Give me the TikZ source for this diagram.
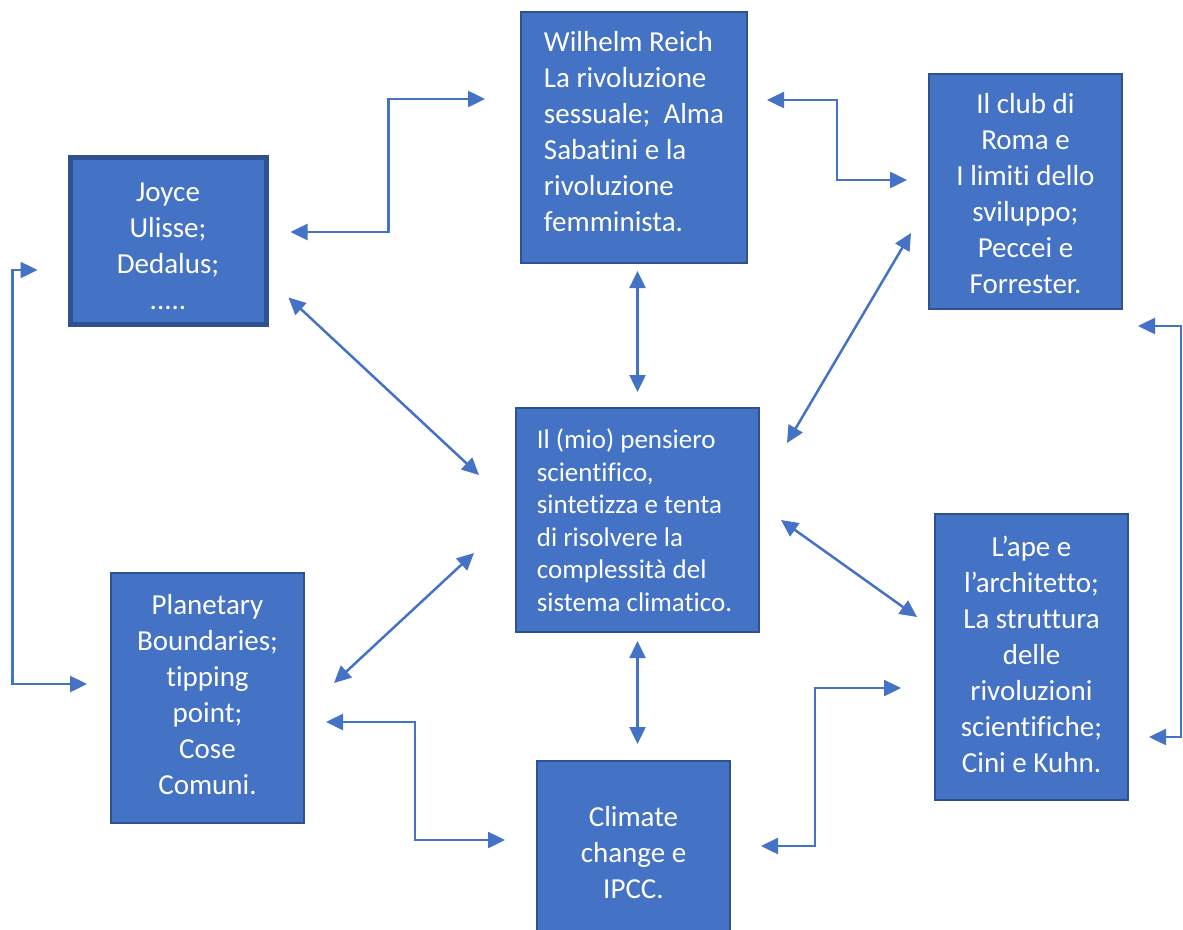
\documentclass[tikz,border=0pt]{standalone}
\usepackage{fontspec}
\setmainfont{Carlito}[Ligatures={NoCommon}]
\usetikzlibrary{arrows.meta,calc}
\definecolor{boxblue}{HTML}{4472C4}
\definecolor{boxedge}{HTML}{2F528F}

\begin{document}
\begin{tikzpicture}[x=1pt,y=-1pt,
	box/.style={draw=boxedge, line width=2pt, fill=boxblue, inner sep=0pt},
	txt/.style={text=white, inner sep=0pt, font=\fontsize{29}{36}\selectfont},
	link/.style={draw=boxblue, line width=2.5pt, {Triangle[length=17pt,width=16pt]}-{Triangle[length=17pt,width=16pt]}}]

	\useasboundingbox (0,0) rectangle (1183,929);

	% Boxes
	\node[box, line width=5pt, minimum width=196pt, minimum height=167pt] (joyce) at (168,240.5) {};
	\node[box, minimum width=226pt, minimum height=251pt] (reich) at (634,137.5) {};
	\node[box, minimum width=193pt, minimum height=235pt] (club) at (1025.5,191.5) {};
	\node[box, minimum width=243pt, minimum height=224pt] (centre) at (637.5,520) {};
	\node[box, minimum width=193pt, minimum height=250pt] (planet) at (207.5,698) {};
	\node[box, minimum width=193pt, minimum height=286pt] (ape) at (1031.5,657) {};
	\node[box, minimum width=193pt, minimum height=184pt] (climate) at (633.5,853) {};

	% Texts
	\node[txt, align=center] (joycetext) at ($(joyce)+(0,6)$) {Joyce\\Ulisse;\\Dedalus;\\.....};
	\node[txt, align=left] (reichtext) at ($(reich)+(0,-6)$) {Wilhelm Reich\\La rivoluzione\\sessuale;\ \ Alma\\Sabatini e la\\rivoluzione\\femminista.};
	\node[txt, align=center] (clubtext) at ($(club)+(0,2)$) {Il club di\\Roma e\\I limiti dello\\sviluppo;\\Peccei e\\Forrester.};
	\node[txt, align=left, font=\fontsize{27}{32.5}\selectfont] (centretext) at ($(centre)+(-3,0)$) {Il (mio) pensiero\\scientifico,\\sintetizza e tenta\\di risolvere la\\complessità del\\sistema climatico.};
	\node[txt, align=center] (planettext) at ($(planet)+(0,-3)$) {Planetary\\Boundaries;\\tipping\\point;\\Cose\\Comuni.};
	\node[txt, align=center] (apetext) at ($(ape)+(0,-3)$) {L’ape e\\l’architetto;\\La struttura\\delle\\rivoluzioni\\scientifiche;\\Cini e Kuhn.};
	\node[txt, align=center] (climatetext) at (climate) {Climate\\change e\\IPCC.};

	% Links
	\draw[link] ($(joyce.east)+(22,-8.5)$) -- ++(98,0) |- ($(reich.west)+(-35,-38.5)$);
	\draw[link] ($(reich.east)+(19,-37.5)$) -- ++(70,0) |- ($(club.west)+(-21,-11.5)$);
	\draw[link] ($(reich.south -| centre.north)+(0,7)$) -- ($(centre.north)+(0,-15)$);
	\draw[link] ($(joyce.south east)+(20,-29)$) -- ($(centre.west)+(-36,-45)$);
	\draw[link] ($(club.south west)+(-17,-77)$) -- ($(centre.east)+(27,-77)$);
	\draw[link] ($(joyce.west)+(-30,29.5)$) -- ++(-25,0) |- ($(planet.west)+(-23,-14)$);
	\draw[link] ($(club.south east)+(15,16)$) -- ++(43,0) |- ($(ape.east)+(20,80)$);
	\draw[link] ($(centre.west)+(-41,33)$) -- ($(planet.east)+(29,-15)$);
	\draw[link] ($(centre.east)+(21,0)$) -- ($(ape.west)+(-17,-40)$);
	\draw[link] ($(centre.south)+(0,8)$) -- ($(centre.south |- climate.north)+(0,-16)$);
	\draw[link] ($(planet.east)+(21,24)$) -- ++(89,0) |- ($(climate.west)+(-31,-13)$);
	\draw[link] ($(climate.east)+(30,-7)$) -- ++(54,0) |- ($(ape.west)+(-33,31)$);

\end{tikzpicture}
\end{document}
